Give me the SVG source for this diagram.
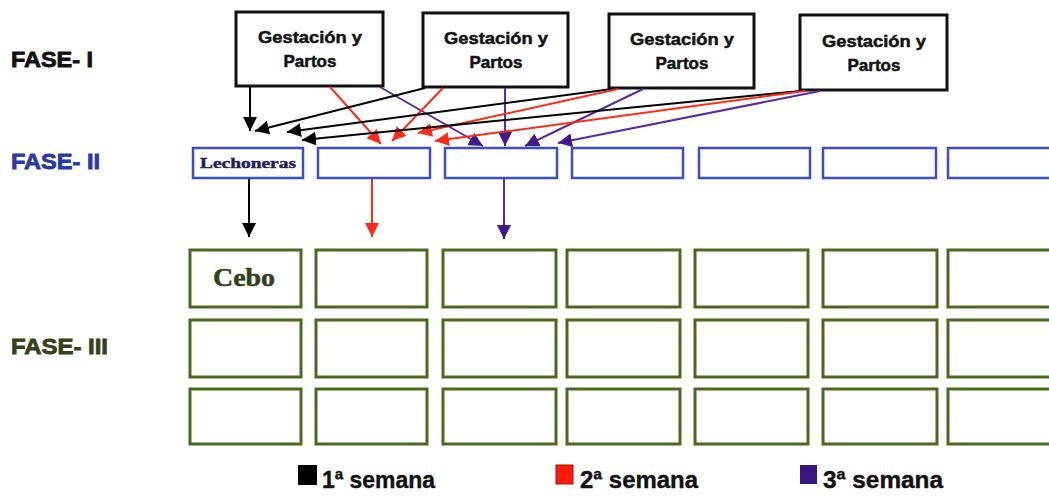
<svg xmlns="http://www.w3.org/2000/svg" width="1049" height="496" viewBox="0 0 1049 496">
<style>
.top{fill:#fff;stroke:#111;stroke-width:3}
.blue{fill:#fff;stroke:#3b4ec8;stroke-width:2.5}
.green{fill:#fff;stroke:#4b6a1e;stroke-width:3}
.tt{font-family:"Liberation Sans",Arial,sans-serif;font-weight:bold;font-size:17px;fill:#111;stroke:#111;stroke-width:0.5;text-anchor:middle}
.fase{font-family:"Liberation Sans",Arial,sans-serif;font-weight:bold;font-size:22px;stroke-width:0.8}
.leg{font-family:"Liberation Sans",Arial,sans-serif;font-weight:bold;font-size:24px;fill:#111;stroke:#111;stroke-width:0.4}
.k{stroke:#000;stroke-width:2;fill:none}
.r{stroke:#ff2a14;stroke-width:2;fill:none}
.p{stroke:#5b2aa6;stroke-width:2;fill:none}
</style>
<defs>
<marker id="ak" markerUnits="userSpaceOnUse" markerWidth="15" markerHeight="14" refX="14" refY="7" orient="auto"><path d="M0,0L14,7L0,14Z" fill="#000"/></marker>
<marker id="ar" markerUnits="userSpaceOnUse" markerWidth="15" markerHeight="14" refX="14" refY="7" orient="auto"><path d="M0,0L14,7L0,14Z" fill="#ff2a14"/></marker>
<marker id="ap" markerUnits="userSpaceOnUse" markerWidth="15" markerHeight="14" refX="14" refY="7" orient="auto"><path d="M0,0L14,7L0,14Z" fill="#3f1a8f"/></marker>
</defs>
<rect width="1049" height="496" fill="#fff"/>
<g id="labels">
<text class="fase" x="11" y="67" fill="#111" stroke="#111" textLength="82" lengthAdjust="spacingAndGlyphs">FASE- I</text>
<text class="fase" x="11" y="169" fill="#2a38a8" stroke="#2a38a8" textLength="89" lengthAdjust="spacingAndGlyphs">FASE- II</text>
<text class="fase" x="11" y="354" fill="#34421c" stroke="#34421c" textLength="97" lengthAdjust="spacingAndGlyphs">FASE- III</text>
</g>
<g id="fase1">
<g id="g1"><rect class="top" x="236" y="12" width="147" height="74"/><text class="tt" x="310" y="43" textLength="104" lengthAdjust="spacingAndGlyphs">Gestación y</text><text class="tt" x="310" y="67">Partos</text></g>
<g id="g2"><rect class="top" x="423" y="13" width="145" height="74"/><text class="tt" x="496" y="44" textLength="104" lengthAdjust="spacingAndGlyphs">Gestación y</text><text class="tt" x="496" y="68">Partos</text></g>
<g id="g3"><rect class="top" x="609" y="14" width="145" height="74"/><text class="tt" x="682" y="45" textLength="104" lengthAdjust="spacingAndGlyphs">Gestación y</text><text class="tt" x="682" y="69">Partos</text></g>
<g id="g4"><rect class="top" x="800" y="15" width="147" height="75"/><text class="tt" x="874" y="47" textLength="104" lengthAdjust="spacingAndGlyphs">Gestación y</text><text class="tt" x="874" y="71">Partos</text></g>
</g>
<g id="fase2">
<g id="l1"><rect class="blue" x="193" y="148" width="110" height="30"/><text x="248" y="168" text-anchor="middle" font-family="'Liberation Serif',serif" font-weight="bold" font-size="14" fill="#1c2060" stroke="#1c2060" stroke-width="0.4" textLength="96" lengthAdjust="spacingAndGlyphs">Lechoneras</text></g>
<rect id="l2" class="blue" x="318" y="148" width="112" height="30"/>
<rect id="l3" class="blue" x="445" y="148" width="112" height="30"/>
<rect id="l4" class="blue" x="572" y="148" width="111" height="30"/>
<rect id="l5" class="blue" x="699" y="148" width="111" height="30"/>
<rect id="l6" class="blue" x="823" y="148" width="113" height="30"/>
<rect id="l7" class="blue" x="948" y="148" width="112" height="30"/>
</g>
<g id="fase3">
<g id="c11"><rect class="green" x="190" y="250" width="111" height="57"/><text x="244" y="286" text-anchor="middle" font-family="'Liberation Serif',serif" font-weight="bold" font-size="25" fill="#34421c" stroke="#34421c" stroke-width="0.5" textLength="62" lengthAdjust="spacingAndGlyphs">Cebo</text></g>
<rect id="c12" class="green" x="316" y="250" width="111" height="57"/>
<rect id="c13" class="green" x="443" y="250" width="113" height="57"/>
<rect id="c14" class="green" x="567" y="250" width="113" height="57"/>
<rect id="c15" class="green" x="695" y="250" width="113" height="57"/>
<rect id="c16" class="green" x="823" y="250" width="114" height="57"/>
<rect id="c17" class="green" x="948" y="250" width="112" height="57"/>
<rect id="c21" class="green" x="190" y="320" width="111" height="57"/>
<rect id="c22" class="green" x="316" y="320" width="111" height="57"/>
<rect id="c23" class="green" x="443" y="320" width="113" height="57"/>
<rect id="c24" class="green" x="567" y="320" width="113" height="57"/>
<rect id="c25" class="green" x="695" y="320" width="113" height="57"/>
<rect id="c26" class="green" x="823" y="320" width="114" height="57"/>
<rect id="c27" class="green" x="948" y="320" width="112" height="57"/>
<rect id="c31" class="green" x="190" y="389" width="111" height="55"/>
<rect id="c32" class="green" x="316" y="389" width="111" height="55"/>
<rect id="c33" class="green" x="443" y="389" width="113" height="55"/>
<rect id="c34" class="green" x="567" y="389" width="113" height="55"/>
<rect id="c35" class="green" x="695" y="389" width="113" height="55"/>
<rect id="c36" class="green" x="823" y="389" width="114" height="55"/>
<rect id="c37" class="green" x="948" y="389" width="112" height="55"/>
</g>
<g id="connectors">
<line class="k" x1="250" y1="87" x2="250" y2="131" marker-end="url(#ak)"/>
<line class="r" x1="330" y1="87" x2="381" y2="144" marker-end="url(#ar)"/>
<line class="p" x1="380" y1="87" x2="483" y2="146" marker-end="url(#ap)"/>
<line class="k" x1="425" y1="88" x2="255" y2="131" marker-end="url(#ak)"/>
<line class="r" x1="443" y1="88" x2="392" y2="141" marker-end="url(#ar)"/>
<line class="p" x1="505" y1="88" x2="505" y2="146" marker-end="url(#ap)"/>
<line class="k" x1="612" y1="89" x2="287" y2="132" marker-end="url(#ak)"/>
<line class="r" x1="618" y1="89" x2="418" y2="133" marker-end="url(#ar)"/>
<line class="p" x1="643" y1="89" x2="525" y2="146" marker-end="url(#ap)"/>
<line class="k" x1="800" y1="91" x2="302" y2="140" marker-end="url(#ak)"/>
<line class="r" x1="805" y1="91" x2="435" y2="141" marker-end="url(#ar)"/>
<line class="p" x1="820" y1="91" x2="558" y2="143" marker-end="url(#ap)"/>
<line class="k" x1="249" y1="179" x2="249" y2="237" marker-end="url(#ak)"/>
<line class="r" x1="372" y1="179" x2="372" y2="237" marker-end="url(#ar)"/>
<line class="p" x1="504" y1="179" x2="504" y2="239" marker-end="url(#ap)"/>
</g>
<g id="legend">
<rect x="298" y="465" width="19" height="20" fill="#000"/>
<text class="leg" x="322" y="488" textLength="113" lengthAdjust="spacingAndGlyphs">1ª semana</text>
<rect x="556" y="465" width="17" height="19" fill="#ff1a0a" stroke="#a01010" stroke-width="1"/>
<text class="leg" x="580" y="488" textLength="118" lengthAdjust="spacingAndGlyphs">2ª semana</text>
<rect x="800" y="465" width="17" height="19" fill="#3a1480"/>
<text class="leg" x="823" y="488" textLength="120" lengthAdjust="spacingAndGlyphs">3ª semana</text>
</g>
</svg>
